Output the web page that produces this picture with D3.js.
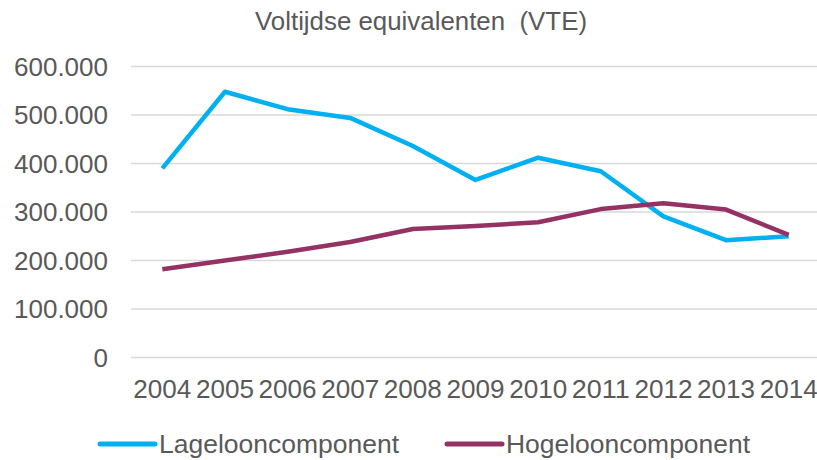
<!DOCTYPE html>
<html>
<head>
<meta charset="utf-8">
<script src="https://cdn.jsdelivr.net/npm/d3@7"></script>
<style>
  body { margin: 0; background: #fff; }
  svg text { font-family: "Liberation Sans", Arial, sans-serif; fill: #595959; }
</style>
</head>
<body>
<svg id="chart" width="817" height="460"></svg>
<script>
// jaren en waarden
const years = ['2004', '2005', '2006', '2007', '2008', '2009', '2010', '2011', '2012', '2013', '2014'];
const lageloon = [390000, 548000, 512000, 494000, 436000, 366000, 412000, 384000, 291000, 242000, 250000];
const hogeloon = [182000, 200000, 218000, 238000, 265000, 271000, 279000, 306000, 318000, 305000, 253000];
const yTicks = [0, 100000, 200000, 300000, 400000, 500000, 600000];
const seriesNames = ['Lagelooncomponent', 'Hogelooncomponent'];
const seriesColors = ['#00b0f0', '#943264'];

const svg = d3.select('#chart');

const x = d3.scaleBand().domain(years).range([131, 820]);
const y = d3.scaleLinear().domain([0, 600000]).range([357.5, 66.5]);

const fmt = v => v === 0 ? '0' : d3.format(',')(v).replace(/,/g, '.');

// gridlijnen
svg.append('g')
  .selectAll('line')
  .data(yTicks)
  .join('line')
  .attr('x1', 131)
  .attr('x2', 817)
  .attr('y1', d => y(d))
  .attr('y2', d => y(d))
  .attr('stroke', '#d9d9d9')
  .attr('stroke-width', 1.5);

// y-as
const yAxis = svg.append('g')
  .attr('transform', 'translate(108,0)')
  .call(d3.axisLeft(y).tickValues(yTicks).tickFormat(fmt).tickSize(0).tickPadding(0));
yAxis.select('.domain').remove();
yAxis.selectAll('text')
  .attr('font-size', 26)
  .attr('font-family', '"Liberation Sans", Arial, sans-serif')
  .attr('fill', '#595959')
  .attr('dy', '0.34em');

// x-as
const xAxis = svg.append('g')
  .attr('transform', 'translate(0,380)')
  .call(d3.axisBottom(x).tickSize(0).tickPadding(0));
xAxis.select('.domain').remove();
xAxis.selectAll('text')
  .attr('font-size', 26)
  .attr('font-family', '"Liberation Sans", Arial, sans-serif')
  .attr('fill', '#595959')
  .attr('dy', '0.71em')
  .attr('textLength', 58)
  .attr('lengthAdjust', 'spacingAndGlyphs');

// lijnen
const line = d3.line()
  .x((d, i) => x(years[i]) + x.bandwidth() / 2)
  .y(d => y(d));

svg.append('g')
  .selectAll('path')
  .data([lageloon, hogeloon])
  .join('path')
  .attr('d', line)
  .attr('fill', 'none')
  .attr('stroke', (d, i) => seriesColors[i])
  .attr('stroke-width', 4.5)
  .attr('stroke-linejoin', 'round');

// titel
svg.append('text')
  .attr('x', 421)
  .attr('y', 30)
  .attr('text-anchor', 'middle')
  .attr('font-size', 25.5)
  .attr('textLength', 332)
  .attr('lengthAdjust', 'spacingAndGlyphs')
  .text('Voltijdse equivalenten\u00a0 (VTE)');

// legenda
const legendX = [100, 447];
const legendLen = [240, 244];
const legend = svg.append('g')
  .selectAll('g')
  .data(seriesNames)
  .join('g')
  .attr('transform', (d, i) => `translate(${legendX[i]},444)`);

legend.append('line')
  .attr('x1', 0)
  .attr('x2', 55)
  .attr('stroke', (d, i) => seriesColors[i])
  .attr('stroke-width', 5)
  .attr('stroke-linecap', 'round');

legend.append('text')
  .attr('x', 59)
  .attr('y', 9)
  .attr('font-size', 26)
  .attr('textLength', (d, i) => legendLen[i])
  .attr('lengthAdjust', 'spacingAndGlyphs')
  .text(d => d);
</script>
</body>
</html>
